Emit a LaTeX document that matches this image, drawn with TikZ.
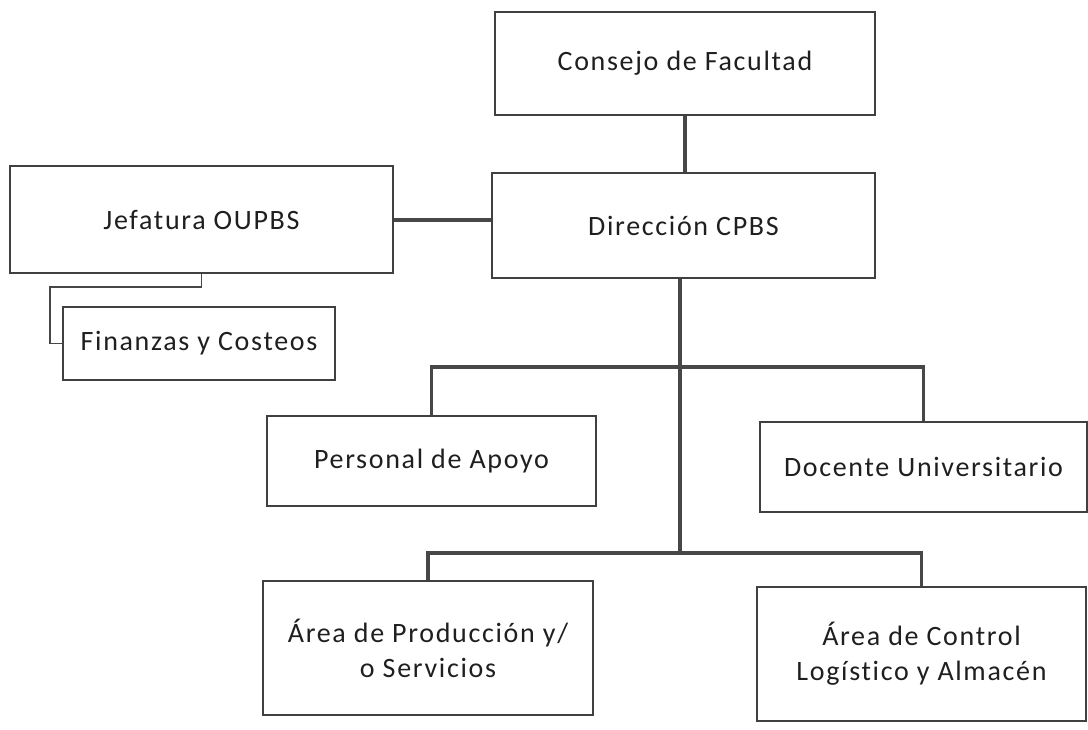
\documentclass[tikz,border=0pt]{standalone}
\usepackage{fontspec}
\setmainfont{Carlito}[LetterSpace=6,Ligatures=NoCommon]
\begin{document}
\begin{tikzpicture}[x=1pt,y=-1pt,
  orgbox/.style={draw=black!75, line width=2pt, fill=white, align=center,
    text=black!88, font=\fontsize{28}{35}\selectfont, inner sep=0pt},
  conn/.style={draw=black!72, line width=3.6pt},
  thin/.style={draw=black!72, line width=1.8pt}]
\useasboundingbox (0,0) rectangle (1088,730);
\fill[white] (0,0) rectangle (1088,730);

\node[orgbox, minimum width=380pt, minimum height=103pt] (consejo) at (685,63.5) {Consejo de Facultad};
\node[orgbox, minimum width=383pt, minimum height=105pt] (direccion) at (683.5,225.5) {Dirección CPBS};
\node[orgbox, minimum width=383pt, minimum height=107pt] (jefatura) at (201.5,220) {Jefatura OUPBS};
\node[orgbox, minimum width=272pt, minimum height=73pt] (finanzas) at (199,343.5) {Finanzas y Costeos};
\node[orgbox, minimum width=329pt, minimum height=90pt] (personal) at (431.5,461) {Personal de Apoyo};
\node[orgbox, minimum width=327pt, minimum height=90pt] (docente) at (923.5,467) {Docente Universitario};
\node[orgbox, minimum width=330pt, minimum height=134pt] (produccion) at (428,648) {Área de Producción y/\\o Servicios};
\node[orgbox, minimum width=329pt, minimum height=134pt] (control) at (921.5,654) {Área de Control\\Logístico y Almacén};

\coordinate (bus1) at (680,367);
\coordinate (bus2) at (680,553);
\coordinate (fk) at (50,287);

\draw[conn] (consejo.south) -- (consejo.south |- direccion.north);
\draw[conn] (jefatura.east) -- (jefatura.east -| direccion.west);
\draw[conn] (direccion.south -| bus1) -- (bus2);
\draw[conn] (personal.north) |- (bus1) -| (docente.north);
\draw[conn] (produccion.north) |- (bus2) -| (control.north);
\draw[thin] (jefatura.south) |- (fk) |- (finanzas.west);
\end{tikzpicture}
\end{document}
